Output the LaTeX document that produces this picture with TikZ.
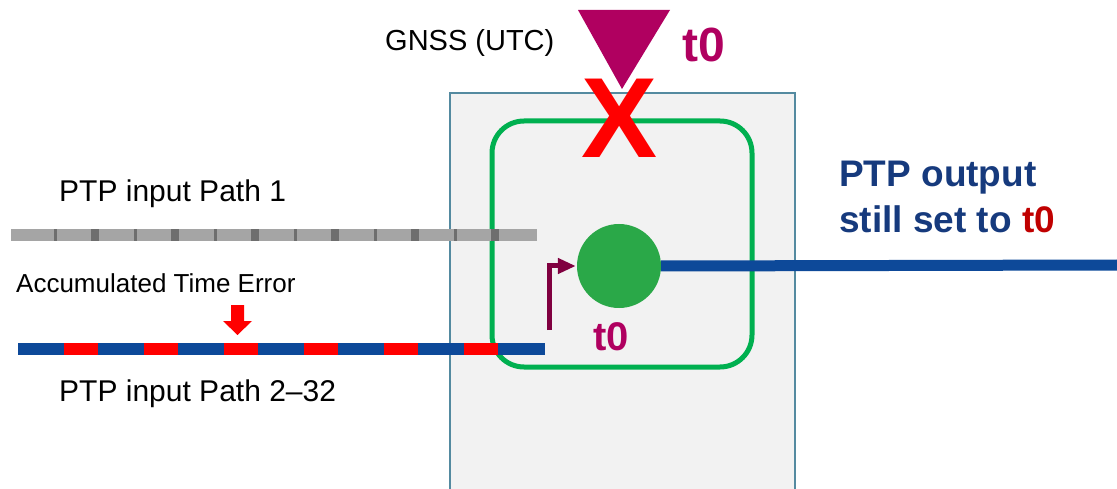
\documentclass[tikz,border=0pt]{standalone}
\usepackage{fontspec}
\setmainfont{Liberation Sans}
\usetikzlibrary{arrows.meta}
\definecolor{ptpblue}{RGB}{13,73,153}
\definecolor{txtblue}{RGB}{22,58,125}
\definecolor{gnssmag}{RGB}{176,0,96}
\definecolor{maroon}{RGB}{128,0,64}
\definecolor{boxfill}{RGB}{242,242,242}
\definecolor{boxedge}{RGB}{84,138,160}
\definecolor{grline}{RGB}{0,176,80}
\definecolor{dotgreen}{RGB}{42,168,72}
\definecolor{lgray}{RGB}{165,165,165}
\definecolor{dgray}{RGB}{110,110,110}
\definecolor{errred}{RGB}{255,0,0}
\definecolor{outred}{RGB}{192,0,0}
\tikzset{
  lbl/.style={inner sep=0pt, anchor=base west, font=\fontsize{30}{34}\selectfont},
  bigt/.style={inner sep=0pt, anchor=base west, text=gnssmag, font=\bfseries\fontsize{48}{52}\selectfont},
  outtxt/.style={inner sep=0pt, anchor=base west, text=txtblue, font=\bfseries\fontsize{37}{41}\selectfont},
}
\begin{document}
\begin{tikzpicture}[x=1pt,y=-1pt]
\useasboundingbox (0,0) rectangle (1117,489);
% device box
\fill[boxfill] (450,93) rectangle (795,495);
\draw[boxedge, line width=2pt] (450,495) -- (450,93) -- (795,93) -- (795,495);
% green rounded frame
\draw[grline, line width=5pt, rounded corners=32pt] (492,121) rectangle (752,367);
% GNSS triangle
\fill[gnssmag] (578,10) -- (670,10) -- (622,89) -- cycle;
\node[lbl, font=\fontsize{29}{33}\selectfont] (gnss) at (385,51) {GNSS (UTC)};
\node[bigt] (t0top) at (682,62) {t0};
% red X
\node[inner sep=0pt, anchor=base, text=errred, font=\bfseries\fontsize{114}{118}\selectfont] (cross) at (620,158) {X};
% PTP input path 1 (gray)
\node[lbl] (p1) at (59,202) {PTP input Path 1};
\coordinate (g0) at (11,235);
\coordinate (g1) at (537,235);
\draw[lgray, line width=12pt] (g0) -- (g1);
\foreach \k in {0,...,5}{
  \fill[dgray] ({54+80*\k},229) rectangle ({57+80*\k},241);
  \fill[dgray] ({91+80*\k},229) rectangle ({99+80*\k},241);
}
% PTP input path 2-32 (blue/red)
\node[lbl, font=\fontsize{26}{30}\selectfont] (ate) at (16,292) {Accumulated Time Error};
\fill[errred] (231,305) -- (244,305) -- (244,321) -- (252,321) -- (237.5,335) -- (223,321) -- (231,321) -- cycle;
\coordinate (b0) at (18,349);
\coordinate (b1) at (545,349);
\draw[ptpblue, line width=12pt] (b0) -- (b1);
\foreach \k in {0,...,5}{
  \fill[errred] ({64+80*\k},343) rectangle ({98+80*\k},355);
}
\node[lbl] (p2) at (59,401) {PTP input Path 2–32};
% clock dot
\node[circle, fill=dotgreen, minimum size=84pt, inner sep=0pt] (dot) at (619,266) {};
\node[inner sep=0pt, anchor=base west, text=gnssmag, font=\bfseries\fontsize{40}{44}\selectfont] (t0dot) at (593,350) {t0};
\coordinate (arrstart) at (549,330);
\draw[maroon, line width=5pt, -{Triangle[length=18pt,width=15pt]}, shorten >=1pt] (arrstart) |- (dot.west);
% output
\coordinate (outend) at (1117,265);
\draw[ptpblue, line width=11pt] (dot.east) -- (outend);
\node[outtxt] (out1) at (839,187) {PTP output};
\node[outtxt] (out2) at (839,233) {still set to \textcolor{outred}{t0}};
\end{tikzpicture}
\end{document}
